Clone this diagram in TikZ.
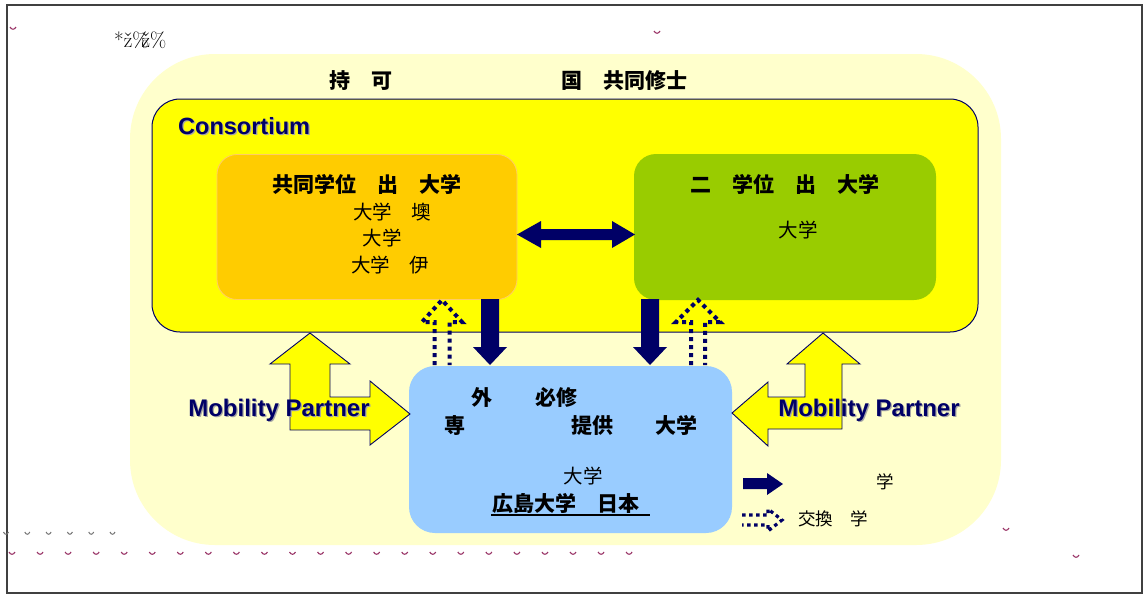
\documentclass[tikz,border=0pt]{standalone}
\usepackage{fontspec}
\newfontfamily\cjk{Noto Sans CJK JP}
\newfontfamily\arial{Liberation Sans}
\definecolor{navy}{HTML}{000066}
\definecolor{paleyellow}{HTML}{FFFFCC}
\definecolor{consyellow}{HTML}{FFFF00}
\definecolor{orangebox}{HTML}{FFCC00}
\definecolor{orangeedge}{HTML}{FFCC66}
\definecolor{greenbox}{HTML}{99CC00}
\definecolor{bluebox}{HTML}{99CCFF}
\definecolor{markpink}{HTML}{993366}
\definecolor{framegray}{HTML}{404040}
\tikzset{
  jb/.style={inner sep=0pt, text height=18.5pt, text depth=2.5pt, font=\cjk\bfseries\fontsize{21}{24}\selectfont},
  jr/.style={inner sep=0pt, text height=17.2pt, text depth=2.3pt, font=\cjk\fontsize{19.5}{22}\selectfont},
  jl/.style={inner sep=0pt, text height=15.4pt, text depth=2.1pt, font=\cjk\fontsize{17.5}{20}\selectfont},
  entxt/.style={inner sep=0pt, text=navy, font=\arial\bfseries\fontsize{23.5}{27}\selectfont},
  shadowtxt/.style={inner sep=0pt, text=black!35, font=\arial\bfseries\fontsize{23.5}{27}\selectfont},
  mptxt/.style={inner sep=0pt, text=navy, font=\arial\bfseries\fontsize{24}{28}\selectfont},
  mpshadow/.style={inner sep=0pt, text=black!35, font=\arial\bfseries\fontsize{24}{28}\selectfont},
  blockarrow/.style={fill=navy, draw=none},
  dotarrow/.style={draw=navy, line width=4pt, dash pattern=on 4pt off 4pt},
  mparrow/.style={fill=consyellow, draw=navy, line width=0.9pt, line join=miter}
}
\begin{document}
\begin{tikzpicture}[x=1pt,y=-1pt]
\useasboundingbox (0,0) rectangle (1147,595);
\fill[white] (0,0) rectangle (1147,595);
% frame
\draw[framegray, line width=1.5pt] (7,5) rectangle (1142,593);
% outer pale area
\fill[paleyellow, rounded corners=85pt] (130,54) rectangle (1001,545);
% consortium box
\draw[fill=consyellow, draw=navy, line width=1pt, rounded corners=28pt] (152,99) rectangle (978,332);
% inner boxes
\node[draw=orangeedge, fill=orangebox, line width=0.8pt, rounded corners=20pt,
      minimum width=300pt, minimum height=145pt, inner sep=0pt] (orange) at (367,227) {};
\node[fill=greenbox, rounded corners=22pt,
      minimum width=302pt, minimum height=146pt, inner sep=0pt] (green) at (785,227) {};
\node[fill=bluebox, rounded corners=26pt,
      minimum width=323pt, minimum height=167pt, inner sep=0pt] (blue) at (570.5,449.5) {};

% Mobility partner arrows
\draw[mparrow] (310,333) -- (350,364) -- (330,364) -- (330,397) -- (370,397) -- (370,381)
  -- (410,414) -- (370,445) -- (370,430) -- (290,430) -- (290,364) -- (270,364) -- cycle;
\draw[mparrow] (823,333) -- (860,364) -- (842,364) -- (842,429) -- (768,429) -- (768,446)
  -- (732,413) -- (768,382) -- (768,397) -- (805,397) -- (805,364) -- (787,364) -- cycle;

% double arrow between orange and green
\fill[blockarrow] (517,234.5) -- (541,221) -- (541,229) -- (612,229) -- (612,221) -- (635,234.5)
  -- (612,248) -- (612,240) -- (541,240) -- (541,248) -- cycle;
% down arrows
\fill[blockarrow] (481,299) -- (499,299) -- (499,347) -- (507,347) -- (490,365) -- (473,347) -- (481,347) -- cycle;
\fill[blockarrow] (641,299) -- (659,299) -- (659,347) -- (667,347) -- (650,365) -- (633,347) -- (641,347) -- cycle;
% dotted up arrows
\draw[dotarrow] (434.5,365) -- (434.5,322) -- (422,322) -- (442,300) -- (462,322) -- (449.5,322) -- (449.5,365);
\draw[dotarrow] (691,365) -- (691,322) -- (676,322) -- (698,300) -- (720,322) -- (705,322) -- (705,365);

% legend
\fill[blockarrow] (743,478) -- (767,478) -- (767,473) -- (783,484) -- (767,495) -- (767,489) -- (743,489) -- cycle;
\draw[dotarrow, line width=3.2pt, dash pattern=on 3.5pt off 3.5pt] (742,515) -- (768,515) -- (768,509) -- (782,520) -- (768,531) -- (768,525) -- (742,525);
\node[jl] (leg1) at (885,482) {学};
\node[jl] (leg2) at (833,519) {交換　学};

% title
\node[jb] (t1) at (361,80) {持　可};
\node[jb] (t2) at (624,80) {国　共同修士};

% Consortium
\node[shadowtxt, anchor=west] (conshadow) at (179.2,127.2) {Consortium};
\node[entxt, anchor=west] (cons) at (178,126) {Consortium};

% orange text
\node[jb] (o1) at (367,184) {共同学位　出　大学};
\node[jr] (o2) at (392,212) {大学　墺};
\node[jr] (o3) at (382,238) {大学};
\node[jr] (o4) at (390,265) {大学　伊};
% green text
\node[jb] (g1) at (785,184) {二　学位　出　大学};
\node[jr] (g2) at (798,230) {大学};
% blue text
\node[jb] (b1) at (482,397) {外};
\node[jb] (b2) at (556,397) {必修};
\node[jb] (b3) at (455,425) {専};
\node[jb] (b4) at (592,425) {提供};
\node[jb] (b5) at (676,425) {大学};
\node[jr] (b6) at (583,476) {大学};
\node[jb] (b7) at (566,503) {広島大学　日本};
\draw[line width=1.8pt] (491,515) -- (650,515);

% Mobility partner texts
\node[mpshadow] (mpls) at (280.2,411.2) {Mobility Partner};
\node[mptxt] (mpl) at (279,410) {Mobility Partner};
\node[mpshadow] (mprs) at (870.2,411.2) {Mobility Partner};
\node[mptxt] (mpr) at (869,410) {Mobility Partner};

% odd top-left text
\node[inner sep=0pt, anchor=west, font=\fontsize{21}{24}\selectfont] (odd) at (114,40) {*ž\%\kern-7pt ž\%};

% stray marks
\foreach \mx/\my/\mc in {13/28/markpink, 657/32/markpink, 1006/529/markpink, 1076/556/markpink}{
  \draw[\mc, line width=1.1pt] (\mx-3,\my-1) .. controls (\mx-1.5,\my+2) and (\mx+1.5,\my+2) .. (\mx+3,\my-1);
}
\foreach \i in {0,...,22}{
  \pgfmathsetmacro{\mx}{12+\i*28.05}
  \draw[markpink, line width=1.1pt] (\mx-3,552) .. controls (\mx-1.5,555) and (\mx+1.5,555) .. (\mx+3,552);
}
\foreach \i in {0,...,5}{
  \pgfmathsetmacro{\mx}{6+\i*21.3}
  \draw[black!55, line width=1pt] (\mx-2.5,532) .. controls (\mx-1.2,535) and (\mx+1.2,535) .. (\mx+2.5,532);
}
\end{tikzpicture}
\end{document}
